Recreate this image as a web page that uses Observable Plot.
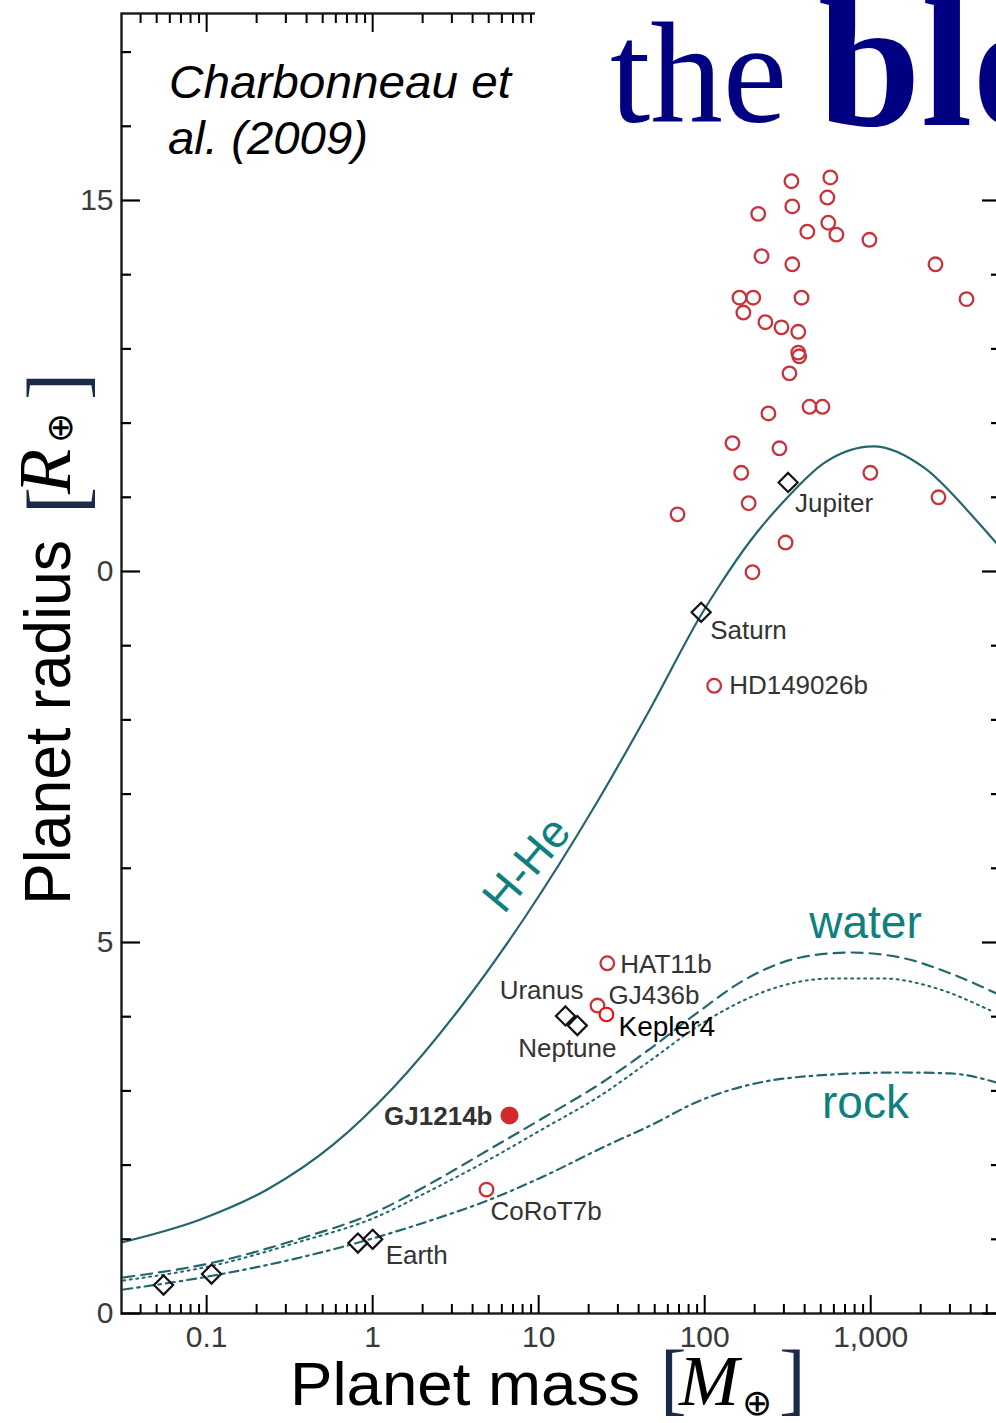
<!DOCTYPE html>
<html><head><meta charset="utf-8">
<script src="https://cdn.jsdelivr.net/npm/d3@7"></script>
<script src="https://cdn.jsdelivr.net/npm/@observablehq/plot@0.6"></script>
<style>
html,body{margin:0;padding:0;background:#fff;}
#wrap{position:relative;width:996px;height:1423px;overflow:hidden;background:#fff;}
#title{position:absolute;left:535px;top:0;width:461px;height:165px;background:#fff;}
</style></head><body><div id="wrap"></div>
<script>
// ---------------- data ----------------
// transiting giant exoplanets (unlabelled), mass [M_earth], radius [R_earth]
const exoMass = [68.6,194,307,184,166,147,282,242,428,512,324,366,371,366,290,232,171,162,196,383,220,337,415,555,621,210,337,333,548,571,982,2455,3776,995,2559];
const exoRadius = [10.77,9.99,10.39,10.92,11.33,11.73,11.66,12.13,12.22,12.22,12.67,12.95,12.9,13.23,13.29,13.36,13.49,13.69,13.69,13.69,14.25,14.14,14.58,14.70,14.54,14.82,14.92,15.26,15.04,15.31,14.47,14.14,13.67,11.33,11.0];
// labelled exoplanets
const namedExo = ["HD149026b","HAT11b","GJ436b","CoRoT7b"];
const namedExoMass = [114,25.9,22.6,4.85];
const namedExoRadius = [8.46,4.72,4.15,1.67];
const keplerName = ["Kepler4"], keplerMass = [25.6], keplerRadius = [4.03];
const gjName = ["GJ1214b"], gjMass = [6.67], gjRadius = [2.67];
// solar-system planets
const solarNames = ["Mercury","Mars","Venus","Earth","Uranus","Neptune","Saturn","Jupiter"];
const solarMass = [0.055,0.107,0.815,1.0,14.5,17.1,95.2,318];
const solarRadius = [0.383,0.532,0.949,1.0,4.01,3.88,9.45,11.2];
// model curves
const hheMass = [0.0307,0.0918,0.232,0.581,1.334,3.38,8.09,22.6,47.1,97.0,119.5,189,315,520,1041,2086,4174,5740];
const hheRadius = [0.957,1.267,1.671,2.278,3.046,4.124,5.310,6.900,8.154,9.447,9.771,10.418,10.997,11.456,11.685,11.402,10.728,10.377];
const waterMass = [0.0315,0.110,0.367,1.0,2.23,4.92,11.0,23.6,47.1,94.2,171,377,755,1511,3027,5730];
const waterRadius = [0.485,0.687,1.011,1.348,1.752,2.197,2.655,3.10,3.571,4.084,4.488,4.798,4.865,4.798,4.582,4.313];
const mixMass = [0.0315,0.110,0.367,1.0,2.23,4.92,11.0,23.6,47.1,94.2,171,238,595,1193,2390,5250];
const mixRadius = [0.445,0.647,0.970,1.280,1.658,2.062,2.507,2.938,3.410,3.895,4.218,4.353,4.515,4.515,4.394,4.084];
const rockMass = [0.0315,0.110,0.367,1.0,2.23,4.92,11.0,23.6,47.1,94.2,189,478,1511,3027,5730];
const rockRadius = [0.323,0.512,0.755,1.011,1.253,1.523,1.860,2.224,2.534,2.871,3.086,3.208,3.248,3.235,3.113];
// axis ticks
const xMajor = [0.1,1,10,100,1000];
const xTickLabels = ["0.1","1","10","100","1,000"];
const xMinorAll = [];
for (const dec of [0.01,0.1,1,10,100,1000]) for (const k of [2,3,4,5,6,7,8,9]) xMinorAll.push(+(dec*k).toPrecision(3));
const yMajor = [0,5,10,15];
const yTickLabels = ["0","5","0","15"];
const yMinor = [1,2,3,4,6,7,8,9,11,12,13,14,16,17];

// ---------------- helpers ----------------
const xDomain = [0.0307, 6050];
const xMinor = xMinorAll.filter(d => d >= xDomain[0] && d <= xDomain[1]);
const rows = (xs, ys, names) => xs.map((m,i)=>({m, r: ys[i], name: names ? names[i] : null}));
const curveColor = "#23666c";
const labelColor = "#0e8080";
const xLab = new Map(xMajor.map((d,i)=>[d, xTickLabels[i]]));
const yLab = new Map(yMajor.map((d,i)=>[d, yTickLabels[i]]));
const exo = rows(exoMass, exoRadius);
const named = rows(namedExoMass, namedExoRadius, namedExo);
const solar = rows(solarMass, solarRadius, solarNames);
const kep = rows(keplerMass, keplerRadius, keplerName);
const gj = rows(gjMass, gjRadius, gjName);
const sol = n => solar.filter(d=>d.name===n);
const nex = n => named.filter(d=>d.name===n);
const lab = (data, o) => Plot.text(data, {x:"m", y:"r", text:"name", fontSize:26, fill:"#333", ...o});

const plot = Plot.plot({
  width: 996, height: 1423,
  marginLeft: 121, marginRight: -4, marginTop: 13, marginBottom: 110,
  style: {fontFamily: "'Liberation Sans', Arial, sans-serif", background: "white", overflow: "hidden"},
  x: {type: "log", domain: xDomain},
  y: {domain: [0, 17.52]},
  marks: [
    Plot.line(rows(hheMass, hheRadius), {x:"m", y:"r", curve:"monotone-x", stroke: curveColor, strokeWidth: 2.2, clip: true}),
    Plot.line(rows(waterMass, waterRadius), {x:"m", y:"r", curve:"monotone-x", stroke: curveColor, strokeWidth: 2.2, strokeDasharray: "11,7", clip: true}),
    Plot.line(rows(mixMass, mixRadius), {x:"m", y:"r", curve:"monotone-x", stroke: curveColor, strokeWidth: 2, strokeDasharray: "2,4.5", clip: true}),
    Plot.line(rows(rockMass, rockRadius), {x:"m", y:"r", curve:"monotone-x", stroke: curveColor, strokeWidth: 2.2, strokeDasharray: "9,5,2.5,5", clip: true}),
    Plot.dot(exo, {x:"m", y:"r", r: 6.8, stroke: "#c8323c", strokeWidth: 2.3, fill: "none"}),
    Plot.dot(named, {x:"m", y:"r", r: 6.8, stroke: "#c8323c", strokeWidth: 2.3, fill: "none"}),
    Plot.dot(kep, {x:"m", y:"r", r: 6.8, stroke: "#ff0000", strokeWidth: 2, fill: "white"}),
    Plot.dot(gj, {x:"m", y:"r", r: 9, fill: "#d42a2d", stroke: "none"}),
    Plot.dot(solar, {x:"m", y:"r", r: 8.6, symbol: "diamond2", stroke: "#111", strokeWidth: 2.2, fill: "none"}),
    lab(sol("Jupiter"), {textAnchor:"start", dx: 7, dy: 21}),
    lab(sol("Saturn"), {textAnchor:"start", dx: 9, dy: 18}),
    lab(sol("Earth"), {textAnchor:"start", dx: 13, dy: 16}),
    lab(sol("Uranus"), {textAnchor:"end", dx: 18, dy: -25}),
    lab(sol("Neptune"), {textAnchor:"middle", dx: -10, dy: 23}),
    lab(nex("HD149026b"), {textAnchor:"start", dx: 15, dy: 0}),
    lab(nex("HAT11b"), {textAnchor:"start", dx: 13, dy: 1}),
    lab(nex("GJ436b"), {textAnchor:"start", dx: 11, dy: -10}),
    lab(nex("CoRoT7b"), {textAnchor:"start", dx: 4, dy: 22}),
    lab(kep, {textAnchor:"start", dx: 12, dy: 13, fill:"#000", fontSize: 28}),
    lab(gj, {textAnchor:"end", dx: -17, dy: 1, fontWeight: "bold"}),
    // curve labels
    Plot.text(["water"], {x: [930], y: [4.93], text: d=>d, fill: labelColor, fontSize: 46, dy: -24}),
    Plot.text(["rock"], {x: [930], y: [2.83], text: d=>d, fill: labelColor, fontSize: 46}),
    Plot.text(["H-He"], {x: [8.5], y: [6.05], text: d=>d, fill: labelColor, fontSize: 46, rotate: -50}),
    Plot.frame({stroke: "#1a1a1a", strokeWidth: 2.4}),
    // inward tick marks
    Plot.axisX({anchor:"bottom", ticks: xMajor, tickSize: -18, strokeWidth: 2, tickFormat: () => "", label: null}),
    Plot.axisX({anchor:"bottom", ticks: xMinor, tickSize: -9, strokeWidth: 2, tickFormat: () => "", label: null}),
    Plot.axisX({anchor:"top", ticks: xMajor, tickSize: -18, strokeWidth: 2, tickFormat: () => "", label: null}),
    Plot.axisX({anchor:"top", ticks: xMinor, tickSize: -9, strokeWidth: 2, tickFormat: () => "", label: null}),
    Plot.axisY({anchor:"left", ticks: yMajor, tickSize: -19, strokeWidth: 2.2, tickFormat: () => "", label: null}),
    Plot.axisY({anchor:"left", ticks: yMinor, tickSize: -10, strokeWidth: 2.2, tickFormat: () => "", label: null}),
    Plot.axisY({anchor:"right", ticks: yMajor, tickSize: -19, strokeWidth: 2.2, tickFormat: () => "", label: null}),
    Plot.axisY({anchor:"right", ticks: yMinor, tickSize: -10, strokeWidth: 2.2, tickFormat: () => "", label: null}),
    // tick labels
    Plot.axisX({anchor:"bottom", ticks: xMajor, tickSize: 0, tickPadding: 12, tickFormat: d => xLab.get(d), label: null, fontSize: 30, fill: "#3a3a3a"}),
    Plot.axisY({anchor:"left", ticks: yMajor, tickSize: 0, tickPadding: 8, tickFormat: d => yLab.get(d), label: null, fontSize: 30, fill: "#3a3a3a"})
  ]
});

const wrap = document.getElementById("wrap");
wrap.appendChild(plot);

// drop the empty label texts produced by the tick-only axes
const svg = d3.select(plot);
svg.selectAll("text").filter(function() { return this.textContent === ""; }).remove();

// axis titles
const serif = "'Liberation Serif', 'Times New Roman', serif";
const sans = "'Liberation Sans', Arial, sans-serif";
const xl = svg.append("g").attr("text-anchor", "start");
xl.append("text").attr("x", 290).attr("y", 1405).attr("font-family", sans).attr("font-size", 62)
  .attr("textLength", 350).attr("lengthAdjust", "spacingAndGlyphs").attr("fill", "#000").text("Planet mass");
xl.append("text").attr("x", 660).attr("y", 1405).attr("font-family", serif).attr("font-size", 80).attr("fill", "#1b2a48").text("[");
xl.append("text").attr("x", 679).attr("y", 1405).attr("font-family", serif).attr("font-style", "italic").attr("font-size", 72).attr("fill", "#000").text("M");
xl.append("text").attr("x", 742).attr("y", 1415).attr("font-family", "'DejaVu Sans', sans-serif").attr("font-size", 36).attr("fill", "#000").text("⊕");
xl.append("text").attr("x", 779).attr("y", 1405).attr("font-family", serif).attr("font-size", 80).attr("fill", "#1b2a48").text("]");

const yl = svg.append("g").attr("text-anchor", "start").attr("transform", "translate(70,0) rotate(-90)");
yl.append("text").attr("x", -905).attr("y", 0).attr("font-family", sans).attr("font-size", 64)
  .attr("textLength", 365).attr("lengthAdjust", "spacingAndGlyphs").attr("fill", "#000").text("Planet radius");
yl.append("text").attr("x", -514).attr("y", 14).attr("font-family", serif).attr("font-size", 82).attr("fill", "#1b2a48").text("[");
yl.append("text").attr("x", -494).attr("y", 0).attr("font-family", serif).attr("font-style", "italic").attr("font-size", 74).attr("fill", "#000").text("R");
yl.append("text").attr("x", -443).attr("y", 2).attr("font-family", "'DejaVu Sans', sans-serif").attr("font-size", 36).attr("fill", "#000").text("⊕");
yl.append("text").attr("x", -400).attr("y", 14).attr("font-family", serif).attr("font-size", 82).attr("fill", "#1b2a48").text("]");

// citation
const cite = svg.append("g").attr("text-anchor", "start").attr("font-family", sans).attr("font-style", "italic").attr("font-size", 46).attr("fill", "#000");
cite.append("text").attr("x", 169).attr("y", 98).attr("textLength", 342).attr("lengthAdjust", "spacingAndGlyphs").text("Charbonneau et");
cite.append("text").attr("x", 168).attr("y", 154).attr("textLength", 200).attr("lengthAdjust", "spacingAndGlyphs").text("al. (2009)");

// slide title overlay
const title = document.createElement("div");
title.id = "title";
title.innerHTML = `<svg width="461" height="165" style="display:block">
  <text x="75" y="122" font-family="${serif}" font-size="145" fill="#000080">the</text>
  <text x="283" y="125" font-family="${serif}" font-weight="bold" font-size="185" fill="#000080">blo</text>
</svg>`;
wrap.appendChild(title);
</script>
</body></html>
